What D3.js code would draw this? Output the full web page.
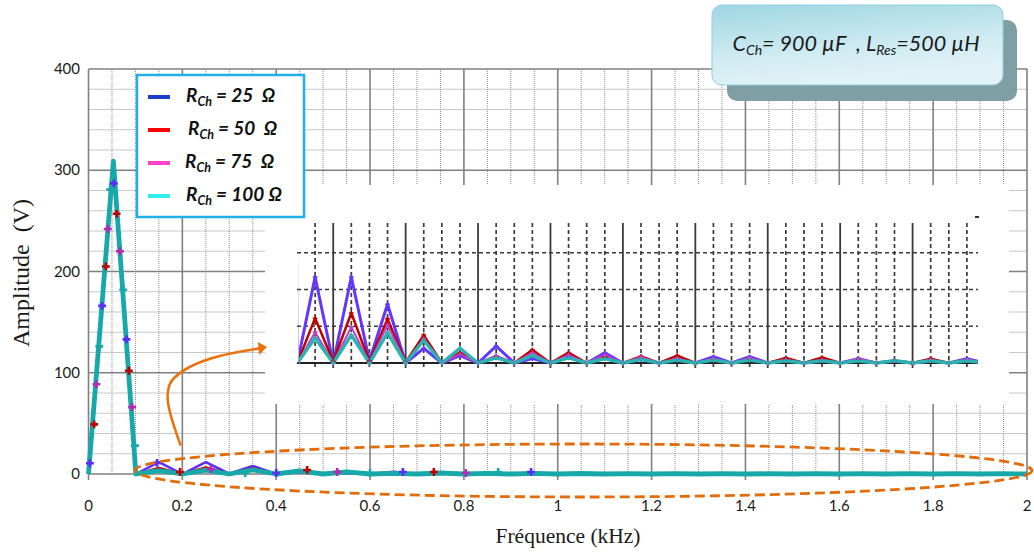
<!DOCTYPE html>
<html><head><meta charset="utf-8">
<script src="https://cdn.jsdelivr.net/npm/d3@7"></script>
<style>body{margin:0;background:#fff} svg{display:block} text{white-space:pre}</style>
</head><body><svg id="c" width="1034" height="554"></svg>
<script>
// ---------- data ----------
const freqs = [0, 0.053, 0.101, 0.15, 0.2, 0.25, 0.3, 0.35, 0.4, 0.45, 0.5, 0.55, 0.6, 0.65, 0.7, 0.75, 0.8, 0.85, 0.9, 0.95, 1.0, 1.05, 1.1, 1.15, 1.2, 1.25, 1.3, 1.35, 1.4, 1.45, 1.5, 1.55, 1.6, 1.65, 1.7, 1.75, 1.8, 1.85, 1.9, 1.95, 2.0];
const seriesLabels = ["25  Ω", "50  Ω", "75  Ω", "100 Ω"];
const amp25  = [0, 310, 0, 11.7, 0, 11.7, 0.3, 8.0, 0, 2.0, 0, 1.0, 0, 2.3, 0, 0.6, 0, 0.9, 0, 1.4, 0, 0.5, 0, 0.5, 0, 0.85, 0, 0.85, 0, 0.4, 0, 0.4, 0, 0.6, 0, 0.3, 0, 0.3, 0, 0.6, 0];
const amp50  = [0, 309, 0, 6.1, 0.2, 6.8, 0.2, 6.0, 0.1, 3.8, 0, 1.4, 0, 0.8, 0, 1.8, 0, 1.4, 0, 0.8, 0, 0.9, 0, 1.0, 0, 0.5, 0, 0.5, 0, 0.7, 0, 0.75, 0, 0.4, 0, 0.3, 0, 0.6, 0, 0.4, 0];
const amp75  = [0, 308, 0, 4.2, 0, 4.9, 0, 5.2, 0, 3.3, 0, 1.2, 0, 1.0, 0, 1.4, 0, 1.1, 0, 1.1, 0, 0.8, 0, 0.6, 0, 0.6, 0, 0.7, 0, 0.4, 0, 0.4, 0, 0.6, 0, 0.3, 0, 0.4, 0, 0.5, 0];
const amp100 = [0, 309, 0, 3.4, 0, 3.8, 0, 4.1, 0, 3.1, 0, 2.0, 0, 0.7, 0, 1.0, 0, 0.7, 0, 0.6, 0, 0.5, 0, 0.4, 0, 0.4, 0, 0.4, 0, 0.3, 0, 0.3, 0, 0.3, 0, 0.3, 0, 0.3, 0, 0.3, 0];
// visible "+" markers on the main spectrum (series index 0..3)
const markerFreq   = [0.003, 0.012, 0.017, 0.023, 0.029, 0.037, 0.041, 0.046, 0.054, 0.060, 0.067, 0.074, 0.081, 0.086, 0.093, 0.099, 0.146, 0.195, 0.261, 0.334, 0.400, 0.466, 0.530, 0.600, 0.670, 0.736, 0.804, 0.873, 0.943];
const markerAmp    = [10.6, 49, 88.6, 126, 166, 205, 242, 281, 287, 257, 220, 182, 133, 102, 66, 28, 11, 2, 5, 1, 1, 4, 2, 1, 2, 2, 1, 2, 2];
const markerSeries = [0, 1, 2, 3, 0, 1, 2, 3, 0, 1, 2, 3, 0, 1, 2, 3, 0, 1, 2, 3, 0, 1, 2, 3, 0, 1, 2, 3, 0];
const xTickValues = [0, 0.2, 0.4, 0.6, 0.8, 1.0, 1.2, 1.4, 1.6, 1.8, 2.0];
const xTickLabels = ["0", "0.2", "0.4", "0.6", "0.8", "1", "1.2", "1.4", "1.6", "1.8", "2"];
const yTickValues = [0, 100, 200, 300, 400];
const yTickLabels = ["0", "100", "200", "300", "400"];
const insetYGrid = [5, 10, 15];

const allSeries = [amp25, amp50, amp75, amp100];
const mainColors  = ["#5a2cf8", "#c00000", "#b52ab5", "#17a9a9"];
const mainWidths  = [2.5, 2, 2, 4.8];
const legendColors = ["#1d3fce", "#ff0000", "#ff44cc", "#2eeeee"];
const insetColors = ["#6236ff", "#c00000", "#c040c0", "#2ab3b3"];
const insetWidths = [3, 2.5, 2, 3.4];

// ---------- layout ----------
const svg = d3.select("#c");
const x = d3.scaleLinear().domain([0, 2]).range([88.5, 1027]);
const y = d3.scaleLinear().domain([0, 400]).range([474, 69]);

// grid
const g = svg.append("g");
const minorX = d3.range(0.05, 2.0, 0.05).filter(v => Math.abs(v / 0.2 - Math.round(v / 0.2)) > 1e-6);
const minorY = d3.range(20, 400, 20).filter(v => v % 100 !== 0);
g.selectAll(".mx").data(minorX).join("line")
  .attr("x1", d => x(d)).attr("x2", d => x(d)).attr("y1", y(0)).attr("y2", y(400))
  .attr("stroke", "#8f8f8f").attr("stroke-width", 1).attr("stroke-dasharray", "1,1");
g.selectAll(".my").data(minorY).join("line")
  .attr("x1", x(0)).attr("x2", x(2)).attr("y1", d => y(d)).attr("y2", d => y(d))
  .attr("stroke", "#8f8f8f").attr("stroke-width", 1).attr("stroke-dasharray", "1,1");
g.selectAll(".Mx").data(xTickValues).join("line")
  .attr("x1", d => x(d)).attr("x2", d => x(d)).attr("y1", y(0) + 6).attr("y2", y(400))
  .attr("stroke", "#808080").attr("stroke-width", 1.6);
g.selectAll(".My").data(yTickValues).join("line")
  .attr("x1", x(0)).attr("x2", x(2)).attr("y1", d => y(d)).attr("y2", d => y(d))
  .attr("stroke", "#808080").attr("stroke-width", 1.6);

// tick labels
svg.selectAll(".xl").data(xTickValues).join("text")
  .attr("x", d => x(d)).attr("y", 511).attr("text-anchor", "middle")
  .attr("font-family", "Lato, sans-serif").attr("font-size", 15).attr("fill", "#1a1a1a")
  .text((d, i) => xTickLabels[i]);
svg.selectAll(".yl").data(yTickValues).join("text")
  .attr("x", 80).attr("y", d => y(d) + 5).attr("text-anchor", "end")
  .attr("font-family", "Lato, sans-serif").attr("font-size", 15).attr("fill", "#1a1a1a")
  .text((d, i) => yTickLabels[i]);

// axis titles
svg.append("text").attr("transform", "translate(29,273) rotate(-90)").attr("text-anchor", "middle")
  .attr("font-family", "'Liberation Serif', 'Times New Roman', serif").attr("font-size", 24).attr("fill", "#1a1a1a")
  .text("Amplitude  (V)");
svg.append("text").attr("x", 568).attr("y", 543).attr("text-anchor", "middle")
  .attr("font-family", "'Liberation Serif', 'Times New Roman', serif").attr("font-size", 21.5).attr("fill", "#1a1a1a")
  .text("Fréquence (kHz)");

// ---------- inset (zoomed harmonics view) ----------
const inset = {left: 265, top: 185, right: 1009, bottom: 404};
svg.append("rect").attr("x", inset.left).attr("y", inset.top)
  .attr("width", inset.right - inset.left).attr("height", inset.bottom - inset.top).attr("fill", "#fff");
const xi = d3.scaleLinear().domain([0.1, 2.0]).range([297, 985]);
const yi = d3.scaleLinear().domain([0, 20]).range([363, 216]);
const ig = svg.append("g");
const insetMinor = d3.range(0.15, 1.96, 0.05).filter(v => Math.abs(v / 0.2 - Math.round(v / 0.2)) > 1e-6);
const insetMajor = d3.range(0.2, 1.81, 0.2);
ig.selectAll(".iy").data(insetYGrid).join("line")
  .attr("x1", xi(0.1)).attr("x2", 978).attr("y1", d => yi(d)).attr("y2", d => yi(d))
  .attr("stroke", "#3a3a3a").attr("stroke-width", 1.7).attr("stroke-dasharray", "4,3");
ig.selectAll(".imx").data(insetMinor).join("line")
  .attr("x1", d => xi(d)).attr("x2", d => xi(d)).attr("y1", 223).attr("y2", yi(0) + 4)
  .attr("stroke", "#3a3a3a").attr("stroke-width", 1.7).attr("stroke-dasharray", "4,3");
ig.selectAll(".iMx").data(insetMajor).join("line")
  .attr("x1", d => xi(d)).attr("x2", d => xi(d)).attr("y1", 223).attr("y2", yi(0) + 5)
  .attr("stroke", "#3a3a3a").attr("stroke-width", 1.8);
ig.append("line").attr("x1", xi(0.1)).attr("x2", 978).attr("y1", yi(0)).attr("y2", yi(0))
  .attr("stroke", "#222").attr("stroke-width", 2);
ig.append("rect").attr("x", 975).attr("y", 216).attr("width", 4).attr("height", 2).attr("fill", "#333");
svg.append("clipPath").attr("id", "ic").append("rect").attr("x", 298.8).attr("y", 210).attr("width", 679).attr("height", 160);
const ilines = svg.append("g").attr("clip-path", "url(#ic)");
const lineI = d3.line().x((d, i) => xi(freqs[i])).y(d => yi(d));
allSeries.forEach((s, k) => {
  ilines.append("path").attr("d", lineI(s)).attr("fill", "none")
    .attr("stroke", insetColors[k]).attr("stroke-width", insetWidths[k]).attr("stroke-linejoin", "round");
});
allSeries.forEach((s, k) => {
  ilines.selectAll(null).data(s).join("path")
    .attr("transform", (d, i) => `translate(${xi(freqs[i])},${yi(d)})`)
    .attr("d", d3.symbol(d3.symbolCross, 12)).attr("fill", insetColors[k]);
});

// ---------- main spectrum ----------
const lineM = d3.line().x((d, i) => x(freqs[i])).y(d => y(d));
allSeries.forEach((s, k) => {
  svg.append("path").attr("d", lineM(s)).attr("fill", "none")
    .attr("stroke", mainColors[k]).attr("stroke-width", mainWidths[k]).attr("stroke-linejoin", "round");
});
svg.selectAll(".mk").data(markerFreq).join("path")
  .attr("transform", (d, i) => `translate(${x(d)},${y(markerAmp[i])})`)
  .attr("d", d3.symbol(d3.symbolCross, 34))
  .attr("fill", (d, i) => mainColors[markerSeries[i]]);

// ---------- legend ----------
const lg = svg.append("g");
lg.append("rect").attr("x", 137).attr("y", 75).attr("width", 167).attr("height", 142)
  .attr("fill", "#fff").attr("stroke", "#1fb0e8").attr("stroke-width", 2.5);
const legY = [97, 130, 163, 196];
const legTX = [186, 188, 185, 186];
seriesLabels.forEach((lab, k) => {
  lg.append("line").attr("x1", 148).attr("x2", 170).attr("y1", legY[k]).attr("y2", legY[k])
    .attr("stroke", legendColors[k]).attr("stroke-width", 4);
  const t = lg.append("text").attr("x", legTX[k]).attr("y", legY[k] + 5)
    .attr("font-family", "Lato, sans-serif").attr("font-weight", "bold").attr("font-style", "italic")
    .attr("font-size", 19).attr("fill", "#111");
  t.append("tspan").text("R");
  t.append("tspan").attr("font-size", 12.5).attr("dy", 4).text("Ch");
  t.append("tspan").attr("dy", -4).text(" = " + lab);
});

// ---------- parameter box ----------
const defs = svg.append("defs");
const gr = defs.append("linearGradient").attr("id", "bg").attr("x1", 0).attr("y1", 0).attr("x2", 0.3).attr("y2", 1);
gr.append("stop").attr("offset", 0).attr("stop-color", "#9fd6e3");
gr.append("stop").attr("offset", 0.6).attr("stop-color", "#cdeaf1");
gr.append("stop").attr("offset", 1).attr("stop-color", "#e2f3f7");
svg.append("rect").attr("x", 727).attr("y", 20).attr("width", 290).attr("height", 81).attr("rx", 10)
  .attr("fill", "#7f9fa4");
svg.append("rect").attr("x", 712).attr("y", 5).attr("width", 291).attr("height", 80).attr("rx", 10)
  .attr("fill", "url(#bg)").attr("stroke", "#8fcfdf").attr("stroke-width", 1);
const bt = svg.append("text").attr("x", 856).attr("y", 51).attr("text-anchor", "middle")
  .attr("font-family", "Lato, sans-serif").attr("font-style", "italic").attr("font-size", 21.5).attr("fill", "#1a1a1a");
bt.append("tspan").text("C");
bt.append("tspan").attr("font-size", 14).attr("dy", 4).text("Ch");
bt.append("tspan").attr("dy", -4).text("= 900 µF  , L");
bt.append("tspan").attr("font-size", 14).attr("dy", 4).text("Res");
bt.append("tspan").attr("dy", -4).text("=500 µH");

// ---------- annotations ----------
svg.append("ellipse").attr("cx", 583.5).attr("cy", 470.5).attr("rx", 448.5).attr("ry", 26.5)
  .attr("fill", "none").attr("stroke", "#e36c0a").attr("stroke-width", 2.8).attr("stroke-dasharray", "10,5");
svg.append("path").attr("d", "M180.7,445.7 C172,420 160,392 174,378 C192,360 228,353 259,348.5")
  .attr("fill", "none").attr("stroke", "#e8730c").attr("stroke-width", 2.5);
svg.append("path").attr("d", "M258,342 L267,347 L259,355 Z").attr("fill", "#e8730c");
</script></body></html>
